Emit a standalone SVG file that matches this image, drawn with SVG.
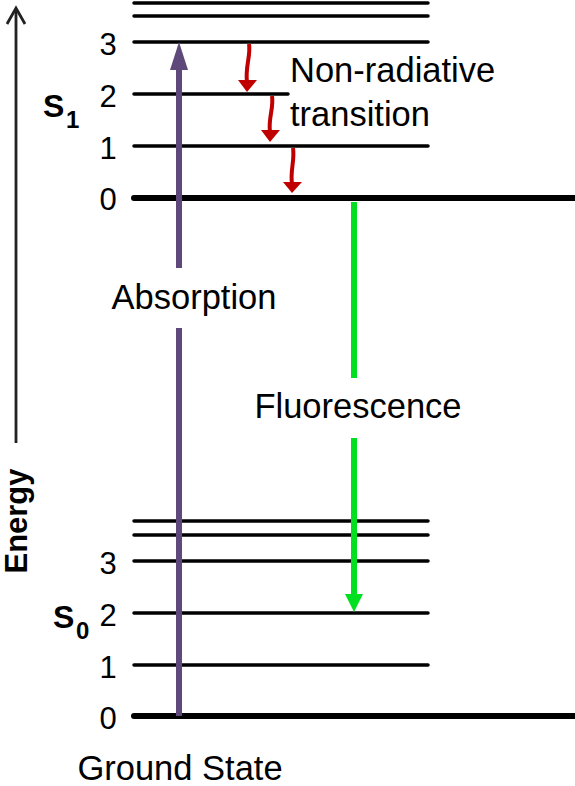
<svg xmlns="http://www.w3.org/2000/svg" width="575" height="786" viewBox="0 0 575 786">
<style>
text{font-family:"Liberation Sans",Arial,sans-serif;fill:#000}
.lbl{font-size:34.5px}
.num{font-size:31px;text-anchor:middle}
.st{font-size:32px;font-weight:bold}
.en{font-size:31px;font-weight:bold}
.sub{font-size:24px;font-weight:bold}
.lv{stroke:#000;stroke-width:3.5;stroke-linecap:round;fill:none}
.lv0{stroke:#000;stroke-width:6;stroke-linecap:round;fill:none}
.red{stroke:#c00000;stroke-width:4;fill:none}
</style>
<rect width="575" height="786" fill="#fff"/>
<g id="energy-axis">
<line x1="16" y1="9" x2="16" y2="443" stroke="#222" stroke-width="2.8"/>
<polyline points="7,24 16,8 25,24" fill="none" stroke="#222" stroke-width="2.8" stroke-linejoin="miter"/>
<text class="en" transform="translate(27,521) rotate(-90)" text-anchor="middle">Energy</text>
</g>
<g id="S1">
<line class="lv" x1="134" y1="3" x2="428" y2="3"/>
<line class="lv" x1="134" y1="16" x2="428" y2="16"/>
<line class="lv" x1="134" y1="42" x2="428" y2="42"/>
<line class="lv" x1="134" y1="94" x2="288" y2="94"/>
<line class="lv" x1="134" y1="146" x2="428" y2="146"/>
<line class="lv0" x1="134" y1="198" x2="578" y2="198"/>
<text class="num" x="108" y="55">3</text>
<text class="num" x="108" y="107">2</text>
<text class="num" x="108" y="159">1</text>
<text class="num" x="108" y="210">0</text>
<text class="st" x="43" y="117">S</text>
<text class="sub" x="66" y="128">1</text>
</g>
<g id="S0">
<line class="lv" x1="134" y1="521" x2="428" y2="521"/>
<line class="lv" x1="134" y1="535" x2="428" y2="535"/>
<line class="lv" x1="134" y1="561" x2="428" y2="561"/>
<line class="lv" x1="134" y1="613" x2="428" y2="613"/>
<line class="lv" x1="134" y1="665" x2="428" y2="665"/>
<line class="lv0" x1="134" y1="716" x2="578" y2="716"/>
<text class="num" x="108" y="574">3</text>
<text class="num" x="108" y="626">2</text>
<text class="num" x="108" y="678">1</text>
<text class="num" x="108" y="729">0</text>
<text class="st" x="53" y="628">S</text>
<text class="sub" x="76" y="639">0</text>
<text class="lbl" x="180" y="780" text-anchor="middle">Ground State</text>
</g>
<g id="connectors">
<g id="absorption">
<line x1="179" y1="716" x2="179" y2="328" stroke="#5f497a" stroke-width="6"/>
<line x1="179" y1="268" x2="179" y2="68" stroke="#5f497a" stroke-width="6"/>
<polygon points="179,42 170,70 188,70" fill="#5f497a"/>
</g>
<g id="fluorescence">
<line x1="354" y1="202" x2="354" y2="378" stroke="#00e020" stroke-width="6"/>
<line x1="354" y1="438" x2="354" y2="597" stroke="#00e020" stroke-width="6"/>
<polygon points="345,594 363,594 354,612" fill="#00e020"/>
</g>
<g id="nonrad">
<path class="red" d="M249,44 C251,56 245,66 247,82"/>
<polygon points="238,80 257,80 247,92" fill="#c00000"/>
<path class="red" d="M272,96 C274,108 268,118 270,132"/>
<polygon points="261,130 280,130 270,142" fill="#c00000"/>
<path class="red" d="M293,148 C295,160 290,170 292,184"/>
<polygon points="283,182 302,182 292,193" fill="#c00000"/>
</g>
</g>
<g id="labels">
<text class="lbl" x="194" y="309" text-anchor="middle">Absorption</text>
<text class="lbl" x="358" y="418" text-anchor="middle">Fluorescence</text>
<text class="lbl" x="290" y="82">Non-radiative</text>
<text class="lbl" x="290" y="126">transition</text>
</g>
</svg>
